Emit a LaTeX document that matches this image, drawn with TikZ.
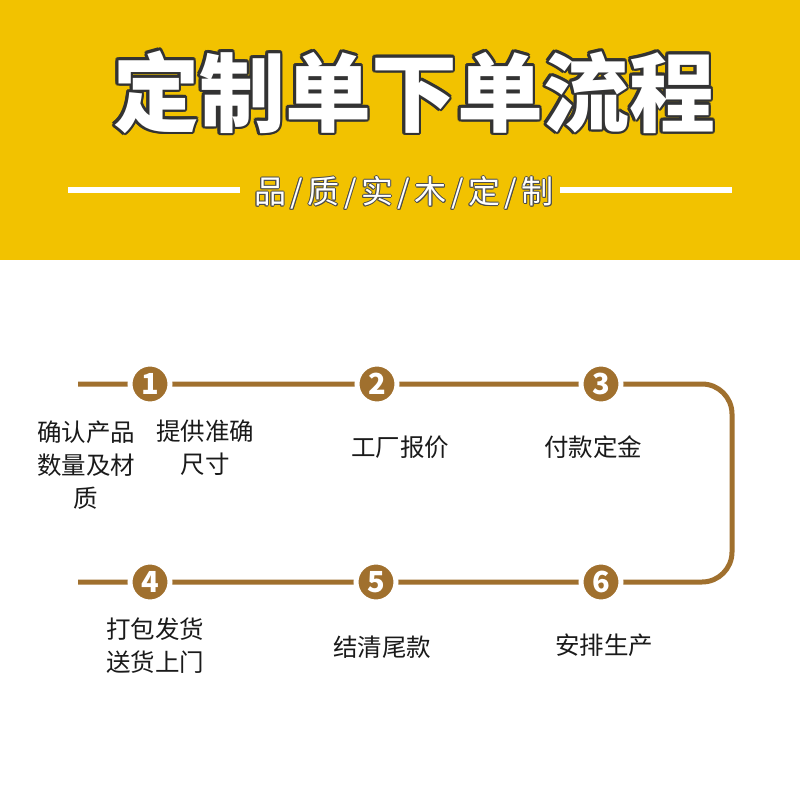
\documentclass[tikz,border=0pt]{standalone}
\usepackage{fontspec}
\setmainfont{Noto Sans CJK SC}
\definecolor{gold}{HTML}{F2C200}
\definecolor{bronze}{HTML}{A0702E}
\definecolor{ink}{HTML}{1A1A1A}
\newcommand{\slashsep}{\hspace{4.5pt}/\hspace{4.5pt}}

\begin{document}
\begin{tikzpicture}[x=1pt, y=-1pt,
  steptext/.style={font=\fontsize{24.5}{33}\selectfont, align=center, text=ink},
  badge/.style={circle, fill=bronze, draw=white, line width=5pt, minimum size=40pt,
    inner sep=0pt, text=white, font=\fontsize{29}{29}\selectfont\bfseries},
  titletext/.style={font=\fontsize{86}{86}\selectfont\bfseries},
  subtext/.style={font=\fontsize{32}{32}\selectfont}]
  \useasboundingbox (0,0) rectangle (800,800);
  \fill[white] (0,0) rectangle (800,800);
  \fill[gold] (0,0) rectangle (800,260);
  % title with dark outline
  \foreach \a in {0,30,...,330}
    \node[titletext, text=black!80] at (414,92) [shift={(\a:2.8)}] {定制单下单流程};
  \node[titletext, text=white] (title) at (414,92) {定制单下单流程};
  % subtitle between two bars
  \foreach \a in {0,45,...,315}
    \node[subtext, text=black!70] at (404,193) [shift={(\a:0.9)}]
      {品\slashsep 质\slashsep 实\slashsep 木\slashsep 定\slashsep 制};
  \node[subtext, text=white] (sub) at (404,193)
    {品\slashsep 质\slashsep 实\slashsep 木\slashsep 定\slashsep 制};
  \draw[white, line width=6pt] (68,190) -- (240,190);
  \draw[white, line width=6pt] (560,190) -- (732,190);
  % track
  \coordinate (start1) at (78,384);
  \coordinate (turn1) at (732,384);
  \coordinate (turn2) at (732,582);
  \coordinate (start2) at (78,582);
  \draw[bronze, line width=5pt, rounded corners=30pt]
    (start1) -- (turn1) -- (turn2) -- (start2);
  \node[badge] (n1) at (150,384) {1};
  \node[badge] (n2) at (377,384) {2};
  \node[badge] (n3) at (601,384) {3};
  \node[badge] (n4) at (150,582) {4};
  \node[badge] (n5) at (376,582) {5};
  \node[badge] (n6) at (601,582) {6};
  % step texts
  \node[steptext] (t1a) at (86,465) {确认产品\\数量及材\\质};
  \node[steptext] (t1b) at (205,448) {提供准确\\尺寸};
  \node[steptext] (t2) at (400,447) {工厂报价};
  \node[steptext] (t3) at (593,447) {付款定金};
  \node[steptext] (t4) at (155,646) {打包发货\\送货上门};
  \node[steptext] (t5) at (382,647) {结清尾款};
  \node[steptext] (t6) at (604,645) {安排生产};
\end{tikzpicture}
\end{document}
